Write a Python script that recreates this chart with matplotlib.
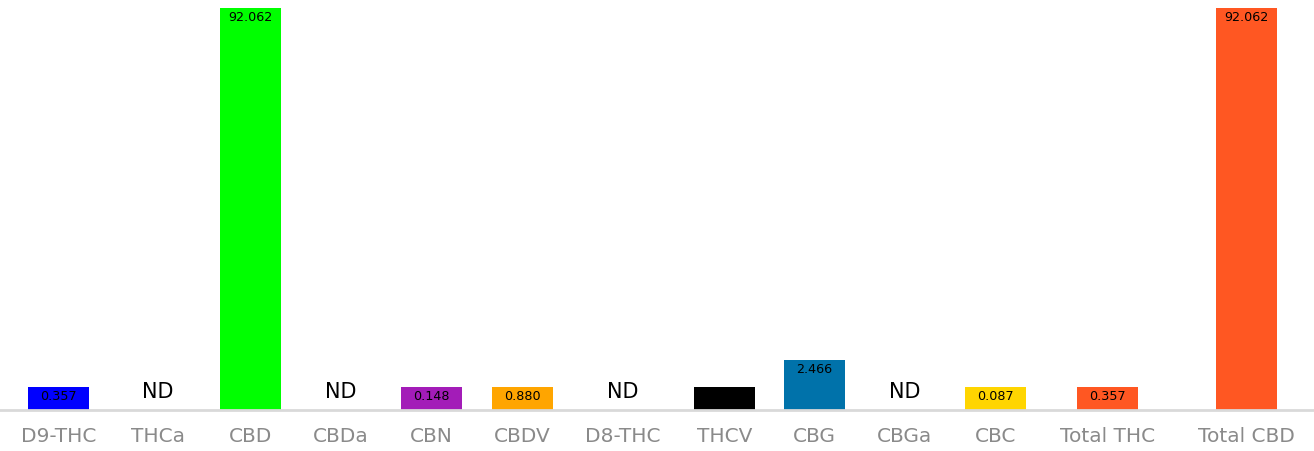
import matplotlib
matplotlib.use("Agg")
import matplotlib.pyplot as plt
import numpy as np

# cannabinoid potency readings (None = not detected)
labels = ["D9-THC", "THCa", "CBD", "CBDa", "CBN", "CBDV", "D8-THC",
          "THCV", "CBG", "CBGa", "CBC", "Total THC", "Total CBD"]
values = [0.357, None, 92.062, None, 0.148, 0.880, None,
          0.222, 2.466, None, 0.087, 0.357, 92.062]
colors = ["#0000ff", "#ffffff", "#00ff00", "#ffffff", "#a31cb8", "#ffa500", "#ffffff",
          "#000000", "#0072aa", "#ffffff", "#ffd500", "#ff5722", "#ff5722"]

# slot centres (label-width driven spacing)
slot_x = [58.5, 158, 250.5, 341, 431.5, 522.5, 623, 724.5, 814.5, 905, 995.5, 1107.5, 1246.5]

Y_BOTTOM = 1.47
Y_TOP = 100
MIN_SHOWN = 1.86   # smallest drawn bar so tiny values stay visible

fig = plt.figure(figsize=(13.14, 4.51), dpi=100)
ax = fig.add_axes([0, 41 / 451, 1, 410 / 451])
ax.set_yscale("log")
ax.set_xlim(0, 1314)
ax.set_ylim(Y_BOTTOM, Y_TOP)

for x, v, c in zip(slot_x, values, colors):
    if v is None:
        ax.annotate("ND", (x, Y_BOTTOM), xytext=(0, 13.2), textcoords="offset points",
                    ha="center", va="center", fontsize=15, color="black")
        continue
    h = max(v, MIN_SHOWN)
    ax.bar(x, h - Y_BOTTOM, bottom=Y_BOTTOM, width=61, color=c, linewidth=0)
    ax.annotate(f"{v:.3f}", (x, h), xytext=(0, -6.8), textcoords="offset points",
                ha="center", va="center", fontsize=9.2, color="black")

ax.set_xticks(slot_x)
ax.set_xticklabels(labels, fontsize=14.5, color="#8a8a8a")
ax.tick_params(axis="x", length=0, pad=12.5)
ax.set_yticks([])
ax.yaxis.set_minor_locator(matplotlib.ticker.NullLocator())

for s in ["top", "left", "right"]:
    ax.spines[s].set_visible(False)
ax.spines["bottom"].set_color("#d9d9d9")
ax.spines["bottom"].set_linewidth(2)

fig.savefig("out.png", dpi=100, facecolor="white")
